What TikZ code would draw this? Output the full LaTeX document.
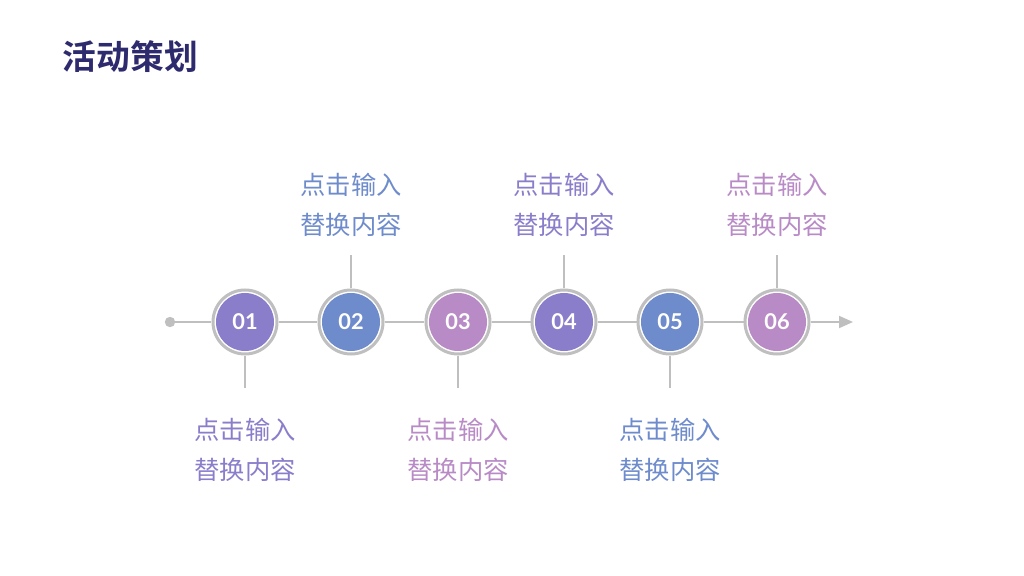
\documentclass[tikz,border=0pt]{standalone}
\usepackage{fontspec}
\setmainfont{Lato}
\newfontfamily\cjk{Noto Sans CJK SC}
\newfontfamily\cjkbold{Noto Sans CJK SC Bold}
\usetikzlibrary{arrows.meta}

\definecolor{ttl}{HTML}{2E2A6E}
\definecolor{lilac}{HTML}{8A7ECB}
\definecolor{steel}{HTML}{6E8BCB}
\definecolor{orchid}{HTML}{B98BC6}
\definecolor{rail}{HTML}{BFBFBF}

\begin{document}
\begin{tikzpicture}[x=0.025cm,y=-0.025cm,>={Triangle[length=0.35cm,width=0.3cm]},
  ring/.style={draw=rail,circle,fill=white,line width=0.075cm,inner sep=0pt,minimum size=1.6cm},
  num/.style={circle,inner sep=0pt,minimum size=1.45cm,text=white,font=\fontsize{15.5}{18}\bfseries\selectfont},
  txt/.style={align=center,font=\cjk\fontsize{18}{28.5}\selectfont},
  link/.style={draw=rail,line width=0.05cm}]
\useasboundingbox (0,0) rectangle (1024,576);
\node[anchor=west,text=ttl,font=\cjkbold\fontsize{24}{28}\selectfont] (title) at (58,57) {活动策划};
% rail
\node[circle,fill=rail,inner sep=0pt,minimum size=0.26cm] (dot) at (170,322) {};
\coordinate (tip) at (853,322);
\node[ring] (r1) at (245,322) {};
\node[ring] (r2) at (351,322) {};
\node[ring] (r3) at (458,322) {};
\node[ring] (r4) at (564,322) {};
\node[ring] (r5) at (670,322) {};
\node[ring] (r6) at (777,322) {};
\node[num,fill=lilac] (n1) at (r1) {01};
\node[num,fill=steel] (n2) at (r2) {02};
\node[num,fill=orchid] (n3) at (r3) {03};
\node[num,fill=lilac] (n4) at (r4) {04};
\node[num,fill=steel] (n5) at (r5) {05};
\node[num,fill=orchid] (n6) at (r6) {06};
\path[link] (dot) -- (r1) (r1) -- (r2) (r2) -- (r3) (r3) -- (r4) (r4) -- (r5) (r5) -- (r6);
\draw[link,->,rail] (r6) -- (tip);
% ticks
\coordinate (t1) at (245,388);
\coordinate (t2) at (351,255);
\coordinate (t3) at (458,388);
\coordinate (t4) at (564,255);
\coordinate (t5) at (670,388);
\coordinate (t6) at (777,255);
\path[link] (r1.south) -- (t1) (r2.north) -- (t2) (r3.south) -- (t3)
  (r4.north) -- (t4) (r5.south) -- (t5) (r6.north) -- (t6);
% labels
\node[txt,text=lilac] (l1) at (245,450) {点击输入\\替换内容};
\node[txt,text=steel] (l2) at (351,205) {点击输入\\替换内容};
\node[txt,text=orchid] (l3) at (458,450) {点击输入\\替换内容};
\node[txt,text=lilac] (l4) at (564,205) {点击输入\\替换内容};
\node[txt,text=steel] (l5) at (670,450) {点击输入\\替换内容};
\node[txt,text=orchid] (l6) at (777,205) {点击输入\\替换内容};
\end{tikzpicture}
\end{document}
